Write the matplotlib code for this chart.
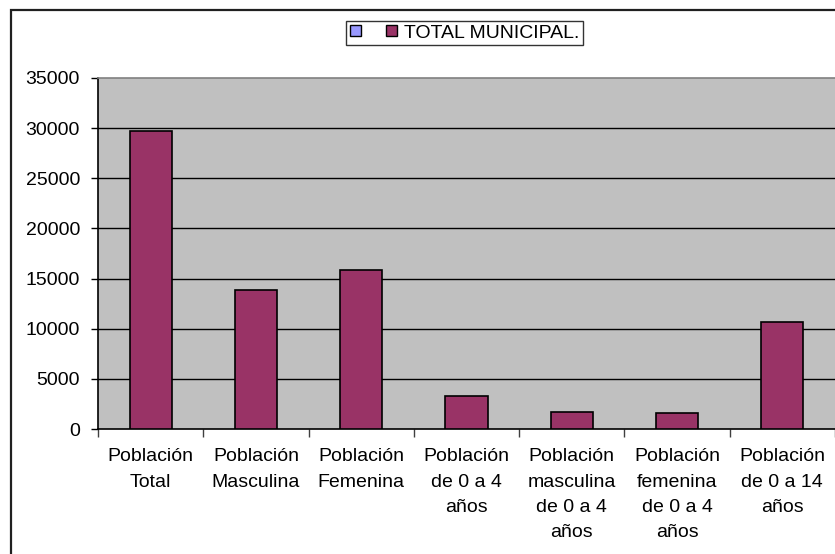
import matplotlib
matplotlib.use("Agg")
import matplotlib.pyplot as plt
from matplotlib.patches import Patch, Rectangle
import numpy as np

plt.rcParams['font.family'] = ['Liberation Sans', 'DejaVu Sans']

categories = ["Población\nTotal", "Población\nMasculina", "Población\nFemenina",
              "Población\nde 0 a 4\naños", "Población\nmasculina\nde 0 a 4\naños",
              "Población\nfemenina\nde 0 a 4\naños", "Población\nde 0 a 14\naños"]
values = [29700, 13850, 15900, 3300, 1650, 1600, 10650]
yticks = [0, 5000, 10000, 15000, 20000, 25000, 30000, 35000]
series_label = "TOTAL MUNICIPAL."

W, H = 835, 554
fig = plt.figure(figsize=(W / 100, H / 100), dpi=100)
ax = fig.add_axes([98 / W, 1 - 429 / H, (835 - 98) / W, (429 - 78) / H])
ax.set_facecolor('#C0C0C0')

x = np.arange(len(categories))
ax.bar(x, values, width=0.4, color='#993366', edgecolor='black', linewidth=1.2, zorder=3)

ax.set_xlim(-0.5, len(categories) - 0.5)
ax.set_ylim(0, 35000)
ax.set_yticks(yticks)
ax.set_yticklabels([str(v) for v in yticks], fontsize=14)
ax.tick_params(axis='y', length=5, width=1, color='black', pad=8, direction='out')

ax.set_xticks(x)
ax.set_xticklabels(categories, fontsize=14, linespacing=1.63)
ax.tick_params(axis='x', which='major', length=0, pad=14)
ax.set_xticks(np.arange(-0.5, len(categories), 1.0), minor=True)
ax.tick_params(axis='x', which='minor', length=6, width=1, color='#404040')

for v in yticks[1:-1]:
    ax.axhline(v, color='black', linewidth=1, zorder=1)

ax.spines['left'].set_color('black')
ax.spines['bottom'].set_color('black')
ax.spines['top'].set_color('#808080')
ax.spines['right'].set_visible(False)
for s in ['left', 'bottom', 'top']:
    ax.spines[s].set_linewidth(1.2)

# outer chart frame (cut by figure edge)
fig.patches.append(Rectangle((11 / W, -0.1), 1.2, 1 - 10 / H + 0.1, transform=fig.transFigure,
                             fill=False, edgecolor='#202020', linewidth=1.6))

handles = [Patch(facecolor='#9999FF', edgecolor='black', linewidth=1),
           Patch(facecolor='#993366', edgecolor='black', linewidth=1)]
leg = fig.legend(handles=handles, labels=['', series_label], ncol=2, loc='center',
                 bbox_to_anchor=(464.5 / W, 1 - 33 / H), frameon=True, fancybox=False,
                 edgecolor='black', fontsize=14, handlelength=0.55, handleheight=0.55,
                 handletextpad=0.35, columnspacing=0.95, borderpad=0.2, borderaxespad=0)
leg.get_frame().set_linewidth(1)

fig.savefig('out.png', dpi=100)
